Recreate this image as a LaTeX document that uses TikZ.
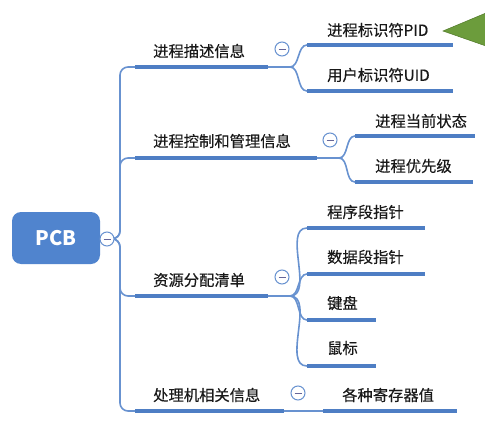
\documentclass[tikz,border=0pt]{standalone}
\usepackage{fontspec}
\setmainfont{Noto Sans CJK SC}
\newfontfamily\lblfont[FakeBold=0.35]{Noto Sans CJK SC}
\definecolor{barblue}{RGB}{78,126,196}
\definecolor{lineblue}{RGB}{104,146,208}
\definecolor{pcbblue}{RGB}{80,132,206}
\definecolor{tri}{RGB}{108,156,60}
\definecolor{tridark}{RGB}{80,120,40}
\begin{document}
\begin{tikzpicture}[x=1pt,y=-1pt,
  bar/.style={draw=barblue,line width=3.8pt},
  thin/.style={draw=lineblue,line width=1.6pt},
  lbl/.style={anchor=west,inner sep=0pt,font=\lblfont\fontsize{15.3}{17}\selectfont,text=black!90},
  tog/.style={circle,draw=lineblue,line width=1pt,fill=white,minimum size=14pt,inner sep=0pt,
    path picture={\draw[gray!80!blue,line width=0.9pt] ([xshift=-3.5pt]path picture bounding box.center) -- ([xshift=3.5pt]path picture bounding box.center);}},
  fan/.style={thin,out=0,in=180,looseness=0.9}]
\useasboundingbox (0,0) rectangle (485,423);
\fill[white] (0,0) rectangle (485,423);
% root
\node[fill=pcbblue,rounded corners=9pt,minimum width=88pt,minimum height=52pt,inner sep=0pt,
  text=white,font=\fontsize{20}{22}\selectfont\bfseries] (pcb) at (56,238) {PCB};
\coordinate (root) at (120,239);
% branch coordinates
\coordinate (b1s) at (135,67);  \coordinate (b1e) at (268,67);
\coordinate (b2s) at (135,158); \coordinate (b2e) at (317,158);
\coordinate (b3s) at (135,296); \coordinate (b3e) at (268,296);
\coordinate (b4s) at (135,411); \coordinate (b4e) at (284,411);
% trunk
\foreach \b in {b1s,b2s,b3s,b4s}{\draw[thin,rounded corners=8pt] (pcb.east) -- (root) |- (\b);}
\node[tog] (t0) at (107,239) {};
% branch bars and labels
\draw[bar] (b1s) -- (b1e); \node[lbl] (l1) at (153,51) {进程描述信息};
\draw[bar] (b2s) -- (b2e); \node[lbl] (l2) at (153,141) {进程控制和管理信息};
\draw[bar] (b3s) -- (b3e); \node[lbl] (l3) at (153,280) {资源分配清单};
\draw[bar] (b4s) -- (b4e); \node[lbl] (l4) at (153,395) {处理机相关信息};
% split points
\coordinate (s1) at (290,67);
\coordinate (s2) at (339,158);
\coordinate (s3) at (290,296);
\draw[thin] (b1e) -- (s1);
\draw[thin] (b2e) -- (s2);
\draw[thin] (b3e) -- (s3);
% children branch 1
\coordinate (c11) at (307,45); \coordinate (c12) at (307,91);
\draw[fan] (s1) to (c11); \draw[fan] (s1) to (c12);
\draw[bar] (c11) -- (453,45); \node[lbl] (n11) at (327,30) {进程标识符PID};
\draw[bar] (c12) -- (453,91); \node[lbl] (n12) at (327,75) {用户标识符UID};
% children branch 2
\coordinate (c21) at (355,136); \coordinate (c22) at (355,182);
\draw[fan] (s2) to (c21); \draw[fan] (s2) to (c22);
\draw[bar] (c21) -- (475,136); \node[lbl] (n21) at (375,121) {进程当前状态};
\draw[bar] (c22) -- (473,182); \node[lbl] (n22) at (375,166) {进程优先级};
% children branch 3
\coordinate (c31) at (307,228); \coordinate (c32) at (307,274);
\coordinate (c33) at (307,320); \coordinate (c34) at (307,366);
\foreach \c in {c31,c32,c33,c34}{\draw[fan] (s3) to (\c);}
\draw[bar] (c31) -- (425,228); \node[lbl] (n31) at (327,212) {程序段指针};
\draw[bar] (c32) -- (425,274); \node[lbl] (n32) at (327,257) {数据段指针};
\draw[bar] (c33) -- (376,320); \node[lbl] (n33) at (327,303) {键盘};
\draw[bar] (c34) -- (376,366); \node[lbl] (n34) at (327,348) {鼠标};
% child branch 4
\coordinate (c41) at (323,411);
\draw[thin] (b4e) -- (c41);
\draw[bar] (c41) -- (457,411); \node[lbl] (n41) at (342,395) {各种寄存器值};
% toggles
\node[tog] (t1) at (282,49) {};
\node[tog] (t2) at (330,140) {};
\node[tog] (t3) at (282,277) {};
\node[tog] (t4) at (298,393) {};
% green pointer
\coordinate (g1) at (443,31);
\coordinate (g2) at (486,13);
\coordinate (g3) at (486,46);
\fill[tri,draw=tridark,line width=0.5pt] (g1) -- (g2) -- (g3) -- cycle;
\end{tikzpicture}
\end{document}
